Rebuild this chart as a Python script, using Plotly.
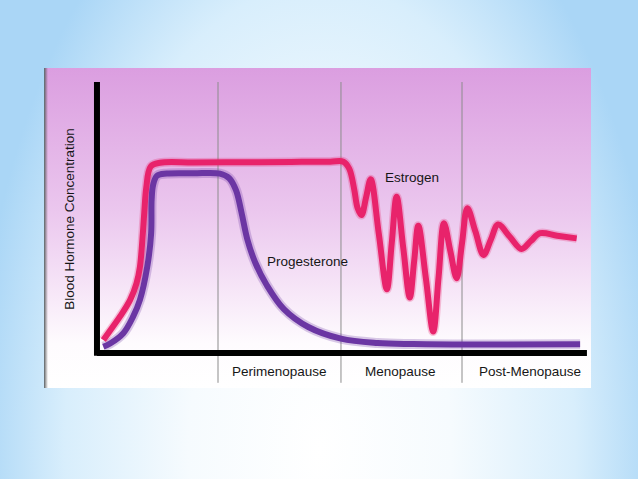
import base64
import plotly.graph_objects as go

# ---------------- data ----------------
estrogen_x = [1.5, 2.5, 4.9, 7.0, 8.3, 9.0, 9.6, 9.9, 10.3, 11.2, 13.1, 20.0, 30.0, 40.0, 48.0,
              50.7, 51.9, 52.9, 53.6, 54.4, 55.35, 56.3, 57.95, 59.6, 60.6, 61.6, 62.95, 64.3,
              65.2, 66.05, 67.6, 69.1, 70.2, 71.3, 72.6, 73.9, 75.0, 76.1, 77.75, 79.4, 80.9,
              82.4, 84.8, 87.2, 89.1, 91.0, 94.5, 98.5]
estrogen_y = [4.8, 7.3, 13.4, 19.6, 25.7, 31.8, 44.2, 52.0, 61.0, 68.8, 70.2, 70.3, 70.4, 70.5, 70.6,
              70.6, 68.0, 60.5, 53.5, 50.9, 57.5, 64.1, 44.0, 23.5, 40.5, 57.7, 39.0, 20.5,
              34.0, 47.0, 27.5, 7.9, 28.0, 47.9, 37.7, 27.6, 40.5, 53.4, 44.8, 36.2, 41.8,
              47.4, 42.9, 38.4, 41.3, 44.2, 43.3, 42.3]

progesterone_x = [1.5, 2.9, 5.6, 7.6, 9.0, 10.5, 11.3, 11.4, 11.7, 12.5, 14.5, 20.0, 25.4,
                  27.3, 28.7, 29.8, 31.0, 32.6, 35.0, 38.5, 43.5, 50.2, 57.7, 65.0,
                  80.0, 99.2]
progesterone_y = [2.3, 3.5, 7.3, 13.4, 19.6, 31.8, 44.2, 56.5, 62.0, 65.4, 66.2, 66.3, 66.2,
                  64.5, 60.0, 52.0, 42.0, 33.5, 25.0, 16.2, 9.6, 5.3, 3.7, 3.3,
                  3.1, 3.2]

phase_bounds = [25.0, 50.2, 75.0]
phase_labels = ["Perimenopause", "Menopause", "Post-Menopause"]
phase_label_x = [37.7, 62.3, 88.9]

y_title = "Blood Hormone Concentration"
series_labels = ["Estrogen", "Progesterone"]
series_label_pos = [(64.7, 64.6), (43.4, 33.6)]

# ---------------- styling ----------------
PINK = "#e8236b"
PURPLE = "#6b36a3"
FONT = "Liberation Sans, Arial, Helvetica, sans-serif"
TXT = "#161616"

W, H = 638, 479
# pixel <-> data mapping: x=0 at px 96, 4.88 px/unit ; y=0 at py 353, 2.71 px/unit
XPX, X0 = 4.88, 96.0
YPX, Y0 = 2.71, 353.0
x_range = [-X0 / XPX, (W - X0) / XPX]
y_range = [(Y0 - H) / YPX, Y0 / YPX]

bg_svg = f"""<svg xmlns='http://www.w3.org/2000/svg' width='{W}' height='{H}' viewBox='0 0 {W} {H}' preserveAspectRatio='none'>
<defs>
<radialGradient id='rg' gradientUnits='userSpaceOnUse' cx='0' cy='0' r='1'
 gradientTransform='translate(320 450) scale(345 630)' >
<stop offset='0' stop-color='#ffffff'/>
<stop offset='0.38' stop-color='#f6fbfe'/>
<stop offset='0.74' stop-color='#d8eefc'/>
<stop offset='1' stop-color='#aad6f6'/>
</radialGradient>
<linearGradient id='pg' x1='0' y1='0' x2='0' y2='1'>
<stop offset='0' stop-color='#db9ee0'/>
<stop offset='0.45' stop-color='#ebc7ee'/>
<stop offset='0.86' stop-color='#fefbfe'/>
<stop offset='1' stop-color='#ffffff'/>
</linearGradient>
<linearGradient id='sh' x1='0' y1='0' x2='1' y2='0'>
<stop offset='0' stop-color='#555555' stop-opacity='0.9'/>
<stop offset='1' stop-color='#555555' stop-opacity='0'/>
</linearGradient>
</defs>
<rect x='0' y='0' width='{W}' height='{H}' fill='url(#rg)'/>
<rect x='45' y='68' width='546' height='320' fill='url(#pg)'/>
<rect x='44' y='68' width='4' height='320' fill='url(#sh)'/>
</svg>"""
bg_uri = "data:image/svg+xml;base64," + base64.b64encode(bg_svg.encode()).decode()

fig = go.Figure()

SM = 1.0
# soft halos
fig.add_trace(go.Scatter(x=progesterone_x, y=progesterone_y, mode="lines",
                         line=dict(color=PURPLE, width=10, shape="spline", smoothing=SM),
                         opacity=0.25, hoverinfo="skip", showlegend=False))
fig.add_trace(go.Scatter(x=estrogen_x, y=estrogen_y, mode="lines",
                         line=dict(color=PINK, width=9, shape="spline", smoothing=SM),
                         opacity=0.25, hoverinfo="skip", showlegend=False))
# main curves
fig.add_trace(go.Scatter(x=progesterone_x, y=progesterone_y, mode="lines", name="Progesterone",
                         line=dict(color=PURPLE, width=6, shape="spline", smoothing=SM),
                         showlegend=False))
fig.add_trace(go.Scatter(x=estrogen_x, y=estrogen_y, mode="lines", name="Estrogen",
                         line=dict(color=PINK, width=6, shape="spline", smoothing=SM),
                         showlegend=False))

shapes = []
for b in phase_bounds:
    shapes.append(dict(type="line", xref="x", yref="y", x0=b, x1=b, y0=-11, y1=100,
                       line=dict(color="#8c8c8c", width=1), layer="below"))
# axes
shapes.append(dict(type="line", xref="x", yref="y", x0=0.2, x1=0.2, y0=-1, y1=100,
                   line=dict(color="#000000", width=6), layer="above"))
shapes.append(dict(type="line", xref="x", yref="y", x0=0.2, x1=100.6, y0=0, y1=0,
                   line=dict(color="#000000", width=6), layer="above"))

annotations = []
for lx, lab in zip(phase_label_x, phase_labels):
    annotations.append(dict(x=lx, y=-7.0, xref="x", yref="y", text=lab, showarrow=False,
                            font=dict(family=FONT, size=13.5, color=TXT)))
for (sx, sy), lab in zip(series_label_pos, series_labels):
    annotations.append(dict(x=sx, y=sy, xref="x", yref="y", text=lab, showarrow=False,
                            font=dict(family=FONT, size=13.5, color=TXT)))
annotations.append(dict(x=-5.6, y=49.4, xref="x", yref="y", text=y_title, showarrow=False,
                        textangle=-90, font=dict(family=FONT, size=13.5, color=TXT)))

fig.update_layout(
    width=W, height=H,
    margin=dict(l=0, r=0, t=0, b=0, pad=0),
    paper_bgcolor="#ffffff",
    plot_bgcolor="rgba(0,0,0,0)",
    xaxis=dict(range=x_range, visible=False, domain=[0, 1], fixedrange=True),
    yaxis=dict(range=y_range, visible=False, domain=[0, 1], fixedrange=True),
    images=[dict(source=bg_uri, xref="paper", yref="paper", x=0, y=1, sizex=1, sizey=1,
                 xanchor="left", yanchor="top", sizing="stretch", layer="below")],
    shapes=shapes,
    annotations=annotations,
    showlegend=False,
)

fig.write_html("out.html", config={"displayModeBar": False},
               post_script="document.body.style.margin='0';document.body.style.overflow='hidden';")
